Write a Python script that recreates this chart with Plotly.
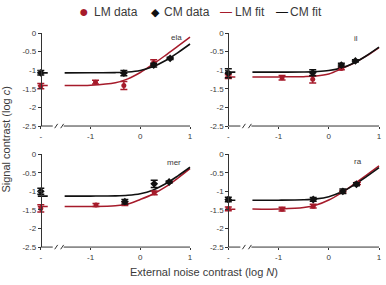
import plotly.graph_objects as go

# ---------------- data ----------------
panels = ["ela", "il", "mer", "ra"]

# LM data
lm_x = {"ela": [-2, -0.9, -0.33, 0.27],
        "il": [-2, -0.93, -0.32, 0.25],
        "mer": [-2, -0.89, -0.31, 0.28],
        "ra": [-2, -0.93, -0.31, 0.28, 0.57]}
lm_y = {"ela": [-1.43, -1.32, -1.41, -0.79],
        "il": [-1.17, -1.20, -1.24, -0.95],
        "mer": [-1.46, -1.37, -1.33, -1.04],
        "ra": [-1.47, -1.48, -1.40, -1.01, -0.79]}
lm_err = {"ela": [0.07, 0.05, 0.11, 0.07],
          "il": [0.05, 0.06, 0.10, 0.04],
          "mer": [0.10, 0.04, 0.05, 0.05],
          "ra": [0.05, 0.05, 0.05, 0.03, 0.03]}

# CM data
cm_x = {"ela": [-2, -0.33, 0.27, 0.6],
        "il": [-2, -0.32, 0.25, 0.53],
        "mer": [-2, -0.31, 0.28, 0.58],
        "ra": [-2, -0.31, 0.28, 0.55]}
cm_y = {"ela": [-1.07, -1.08, -0.86, -0.68],
        "il": [-1.08, -1.07, -0.86, -0.75],
        "mer": [-1.00, -1.28, -0.80, -0.75],
        "ra": [-1.22, -1.22, -1.00, -0.81]}
cm_err = {"ela": [0.06, 0.07, 0.05, 0.03],
          "il": [0.12, 0.08, 0.05, 0.03],
          "mer": [0.08, 0.06, 0.10, 0.03],
          "ra": [0.06, 0.05, 0.06, 0.04]}

# fitted curves; None = axis break gap
fit_x = [-2.06, -1.86, None, -1.52, -1, -0.5, -0.25, 0, 0.25, 0.5, 0.75, 1]
lm_fit = {"ela": [-1.41, -1.41, None, -1.409, -1.402, -1.337, -1.233, -1.061, -0.843, -0.605, -0.358, -0.11],
          "il": [-1.18, -1.18, None, -1.18, -1.179, -1.172, -1.155, -1.10, -0.965, -0.81, -0.615, -0.39],
          "mer": [-1.41, -1.41, None, -1.41, -1.41, -1.39, -1.34, -1.22, -1.08, -0.89, -0.65, -0.39],
          "ra": [-1.48, -1.48, None, -1.479, -1.475, -1.439, -1.37, -1.235, -1.039, -0.81, -0.567, -0.319]}
cm_fit = {"ela": [-1.07, -1.07, None, -1.07, -1.069, -1.063, -1.047, -1.005, -0.909, -0.745, -0.531, -0.294],
          "il": [-1.05, -1.05, None, -1.05, -1.05, -1.046, -1.036, -1.009, -0.94, -0.805, -0.609, -0.38],
          "mer": [-1.13, -1.13, None, -1.13, -1.129, -1.123, -1.107, -1.065, -0.969, -0.805, -0.591, -0.354],
          "ra": [-1.24, -1.24, None, -1.24, -1.239, -1.228, -1.205, -1.145, -1.021, -0.834, -0.608, -0.366]}

x_tickvals = [-2, -1, 0, 1]
x_ticktext = ["-", "-1", "0", "1"]
y_tickvals = [-2.5, -2, -1.5, -1, -0.5, 0]
y_ticktext = ["-2.5", "-2", "-1.5", "-1", "-0.5", "0"]

# ---------------- layout geometry ----------------
W, H = 386, 285
RED = "#a61b2b"
BLK = "#111111"
TXT = "#3a3a3a"
FONT = "Liberation Sans, Arial, sans-serif"
XR = [-2.12, 1.02]
YR = [-2.5, 0]

# pixel positions of x=-2 and x=1; y=0 and y=-2.5
geo = {
    "ela": ((41, 191), (30, 126)),
    "il": ((229.5, 381), (30, 126)),
    "mer": ((41, 191), (155, 251)),
    "ra": ((229.5, 381), (155, 251)),
}

fig = go.Figure()
shapes = []
annotations = []


def to_px(x, xp):
    a, b = xp
    return a + (x - (-2)) / 3.0 * (b - a)


for i, p in enumerate(panels):
    n = i + 1
    xs = "" if n == 1 else str(n)
    xp, yp = geo[p]
    x0 = to_px(XR[0], xp) / W
    x1 = to_px(XR[1], xp) / W
    y0 = 1 - yp[1] / H
    y1 = 1 - yp[0] / H
    fig.update_layout(**{
        "xaxis" + xs: dict(domain=[x0, x1], range=XR, anchor="y" + xs,
                           showline=False, showgrid=False, zeroline=False,
                           tickmode="array", tickvals=x_tickvals, ticktext=x_ticktext,
                           ticks="outside", ticklen=2, tickwidth=1, tickcolor="#333",
                           tickfont=dict(size=8, color=TXT, family=FONT)),
        "yaxis" + xs: dict(domain=[y0, y1], range=YR, anchor="free",
                           position=xp[0] / W,
                           showline=True, linecolor="#333", linewidth=1,
                           showgrid=False, zeroline=False,
                           tickmode="array", tickvals=y_tickvals, ticktext=y_ticktext,
                           ticks="outside", ticklen=3, tickwidth=1, tickcolor="#333",
                           tickfont=dict(size=8, color=TXT, family=FONT)),
    })

    # fits
    fig.add_trace(go.Scatter(x=fit_x, y=lm_fit[p], mode="lines", line=dict(color=RED, width=1.5, shape="spline"),
                             connectgaps=False, showlegend=False, xaxis="x" + xs, yaxis="y" + xs, hoverinfo="skip"))
    fig.add_trace(go.Scatter(x=fit_x, y=cm_fit[p], mode="lines", line=dict(color=BLK, width=1.6, shape="spline"),
                             connectgaps=False, showlegend=False, xaxis="x" + xs, yaxis="y" + xs, hoverinfo="skip"))
    # data
    fig.add_trace(go.Scatter(x=lm_x[p], y=lm_y[p], mode="markers",
                             marker=dict(symbol="circle", size=5, color=RED),
                             error_y=dict(type="data", array=lm_err[p], thickness=1.5, width=3.5, color=RED),
                             showlegend=False, xaxis="x" + xs, yaxis="y" + xs))
    fig.add_trace(go.Scatter(x=cm_x[p], y=cm_y[p], mode="markers",
                             marker=dict(symbol="diamond", size=6, color=BLK),
                             error_y=dict(type="data", array=cm_err[p], thickness=1.5, width=3.5, color=BLK),
                             showlegend=False, xaxis="x" + xs, yaxis="y" + xs))

    # x axis line with a break
    yb = 1 - yp[1] / H

    def P(x, xp=xp):
        return to_px(x, xp) / W
    s = 4.5 / H
    for seg in ([-2, -1.76], [-1.54, 1]):
        shapes.append(dict(type="line", xref="paper", yref="paper", x0=P(seg[0]), x1=P(seg[1]),
                           y0=yb, y1=yb, line=dict(color="#333", width=1)))
    for bx in (-1.69, -1.57):
        shapes.append(dict(type="line", xref="paper", yref="paper",
                           x0=P(bx) - 1.5 / W, x1=P(bx) + 1.5 / W, y0=yb - s / 2, y1=yb + s / 2,
                           line=dict(color="#333", width=1)))

# panel labels
for lab, (px, py) in {"ela": (177, 35), "il": (358, 36), "mer": (175, 164), "ra": (360, 163)}.items():
    annotations.append(dict(text=lab, x=px / W, y=1 - py / H, xref="paper", yref="paper",
                            showarrow=False, xanchor="center", yanchor="middle",
                            font=dict(size=8, color=TXT, family=FONT)))

# axis titles
annotations.append(dict(text="Signal contrast (log <i>c</i>)", x=6 / W, y=1 - 140 / H,
                        xref="paper", yref="paper", showarrow=False, textangle=-90,
                        xanchor="center", yanchor="middle", font=dict(size=11, color=TXT, family=FONT)))
annotations.append(dict(text="External noise contrast (log <i>N</i>)", x=205 / W, y=1 - 277 / H,
                        xref="paper", yref="paper", showarrow=False,
                        xanchor="center", yanchor="middle", font=dict(size=11, color=TXT, family=FONT)))

# legend (as text)
ly = 1 - 8 / H
leg = [("●", 84, RED, 16, "center"), ("LM data", 92, TXT, 12, "left"),
       ("◆", 156, BLK, 11, "center"), ("CM data", 163, TXT, 12, "left"),
       ("—", 227, RED, 12, "center"), ("LM fit", 234, TXT, 12, "left"),
       ("—", 283, BLK, 12, "center"), ("CM fit", 290, TXT, 12, "left")]
for t, px, col, sz, anc in leg:
    annotations.append(dict(text=t, x=px / W, y=ly, xref="paper", yref="paper", showarrow=False,
                            xanchor=anc, yanchor="middle", font=dict(size=sz, color=col, family=FONT)))

fig.update_layout(width=W, height=H, margin=dict(l=0, r=0, t=0, b=0),
                  paper_bgcolor="white", plot_bgcolor="white",
                  shapes=shapes, annotations=annotations, showlegend=False,
                  font=dict(family=FONT, color=TXT))

fig.write_html("out.html")
